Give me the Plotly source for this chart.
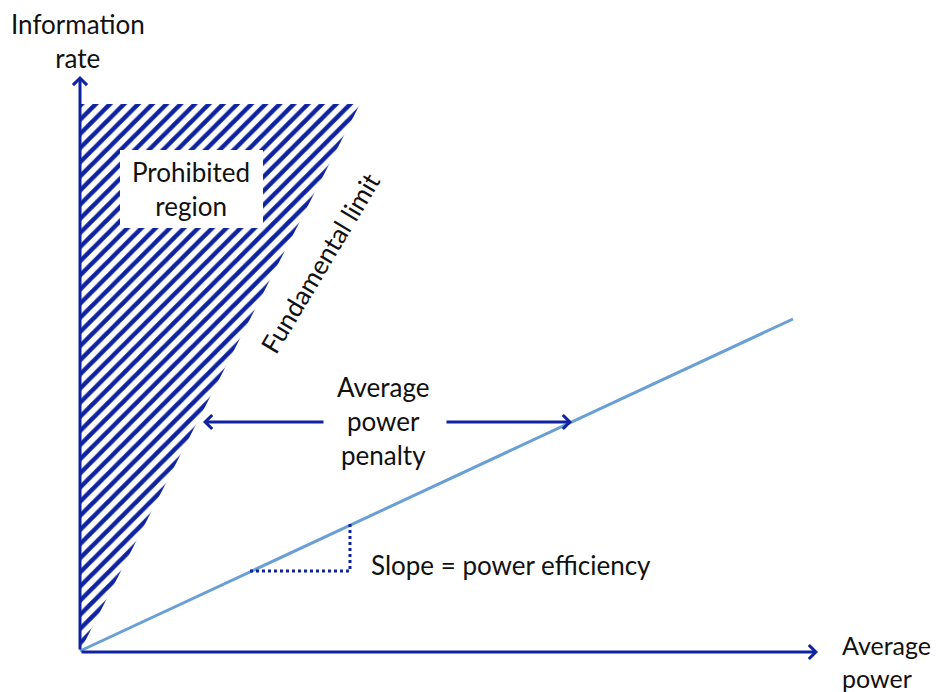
import plotly.graph_objects as go

# diagram coordinates, origin at the corner of the two axes
region_x = [0, 0, 280, 0]
region_y = [0, 547, 547, 0]

eff_x = [0, 713]
eff_y = [0, 332]

slope_x = [170, 270, 270]
slope_y = [80, 80, 129]

axis_tips = {"y": (0, 575), "x": (738, -1)}
penalty_y = 229
penalty_left = (245, 123)
penalty_right = (365, 492)

DARK = "#0F22A0"
LIGHT = "#6A9FD6"
TXT = "#111111"
FONT = "Lato"
FSIZE = 26

fig = go.Figure()

# hatched prohibited region
fig.add_trace(go.Scatter(
    x=region_x, y=region_y, mode="lines", fill="toself",
    line=dict(width=0, color=DARK),
    fillcolor="white",
    fillpattern=dict(shape="/", fgcolor=DARK, bgcolor="white", fgopacity=1,
                     size=10, solidity=0.45),
    hoverinfo="skip", showlegend=False,
))

# power efficiency line
fig.add_trace(go.Scatter(
    x=eff_x, y=eff_y, mode="lines", line=dict(color=LIGHT, width=3),
    hoverinfo="skip", showlegend=False,
))

# dotted slope triangle
fig.add_trace(go.Scatter(
    x=slope_x, y=slope_y, mode="lines", line=dict(color=DARK, width=3, dash="dot"),
    hoverinfo="skip", showlegend=False,
))

# white box behind "Prohibited region"
fig.add_shape(type="rect", x0=40, x1=183, y0=423, y1=501,
              fillcolor="white", line=dict(width=0), layer="above")


def arrow(x0, y0, x1, y1):
    fig.add_annotation(x=x1, y=y1, ax=x0, ay=y0, xref="x", yref="y",
                       axref="x", ayref="y", text="", showarrow=True,
                       arrowhead=4, arrowsize=0.9, arrowwidth=3, arrowcolor=DARK)


arrow(0, -1, *axis_tips["x"])
arrow(0, 0, *axis_tips["y"])
arrow(penalty_left[0], penalty_y, penalty_left[1], penalty_y)
arrow(penalty_right[0], penalty_y, penalty_right[1], penalty_y)


def label(x, y, text, xanchor="center", angle=0, align="center", size=FSIZE):
    fig.add_annotation(x=x, y=y, xref="x", yref="y", text=text, showarrow=False,
                       xanchor=xanchor, yanchor="middle", textangle=angle,
                       align=align, borderpad=0,
                       font=dict(family=FONT, size=size, color=TXT))


label(111, 462, "Prohibited<br>region")
label(240, 388, "Fundamental limit", angle=-59)
label(303, 230, "Average<br>power<br>penalty")
label(290, 86, "Slope = power efficiency", xanchor="left")
label(-2, 610, "Information<br>rate")
label(761, -10, "Average<br>power", xanchor="left", align="left", size=25)

# the page body adds an 8px margin, so the ranges are shifted to compensate
fig.update_xaxes(range=[-72, 870], visible=False)
fig.update_yaxes(range=[-49, 643], visible=False)
fig.update_layout(
    width=942, height=692,
    margin=dict(l=0, r=0, t=0, b=0),
    plot_bgcolor="white", paper_bgcolor="white",
)

fig.write_html("out.html")
